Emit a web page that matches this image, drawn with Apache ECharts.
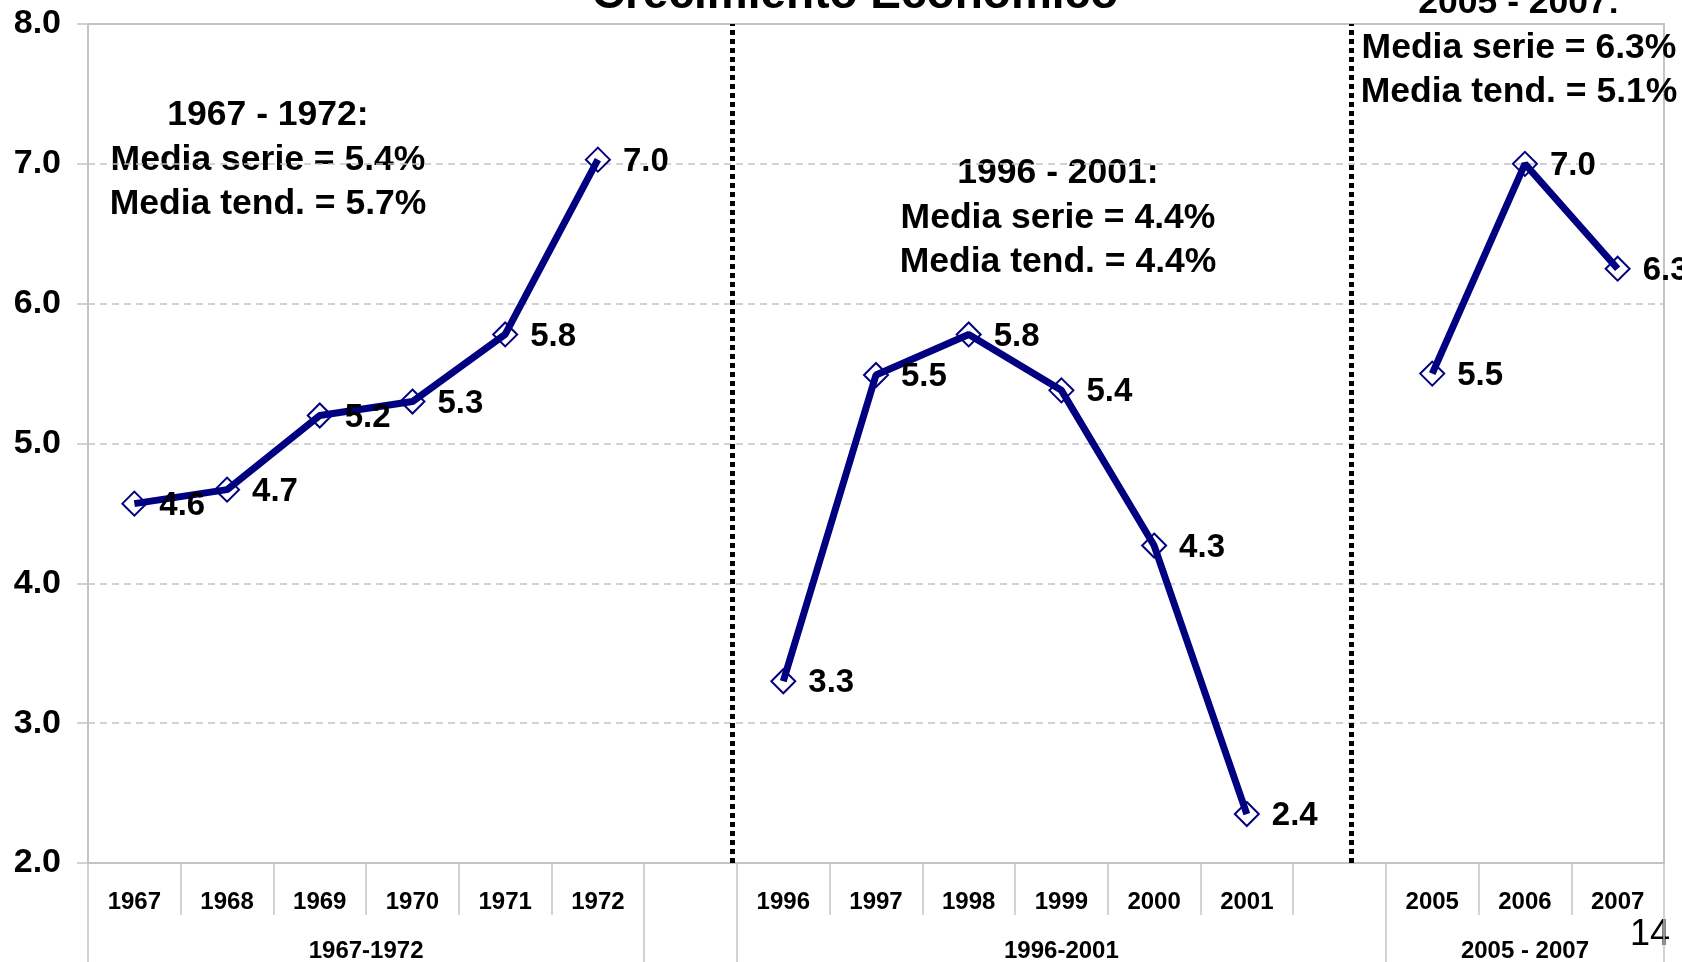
<!DOCTYPE html>
<html>
<head>
<meta charset="utf-8">
<title>Crecimiento Económico</title>
<script src="https://cdn.jsdelivr.net/npm/echarts@6/dist/echarts.min.js"></script>
<style>
	html, body { margin: 0; padding: 0; background: #fff; }
	#chart { width: 1682px; height: 962px; }
</style>
</head>
<body>
<div id="chart"></div>
<script>
	// categorias del eje (los huecos separan los periodos)
	var years = ["1967", "1968", "1969", "1970", "1971", "1972", "",
		"1996", "1997", "1998", "1999", "2000", "2001", "",
		"2005", "2006", "2007"];
	// crecimiento (%)
	var growth = [4.57, 4.67, 5.2, 5.3, 5.78, 7.03, null,
		3.3, 5.49, 5.78, 5.38, 4.27, 2.35, null,
		5.5, 7.0, 6.25];

	// segundo nivel del eje: periodos
	var periodNames = ["1967-1972", "1996-2001", "2005 - 2007"];
	var periodCenters = [3, 10.5, 15.5];
	var periodEdges = [0, 6, 7, 14, 17];
	// lineas punteadas entre periodos (en unidades de categoria)
	var dividers = [6.95, 13.63];

	var yMin = 2, yMax = 8, yStep = 1;

	var notes = [
		["1967 - 1972:", "Media serie = 5.4%", "Media tend. = 5.7%"],
		["1996 - 2001:", "Media serie = 4.4%", "Media tend. = 4.4%"],
		["2005 - 2007:", "Media serie = 6.3%", "Media tend. = 5.1%"]
	];
	var notePos = [[268, 160], [1058, 218], [1519, 48]];

	var FONT = "Liberation Sans, Arial, sans-serif";
	var GRAY = "#c4c4c4";
	var NAVY = "#000080";

	var chart = echarts.init(document.getElementById("chart"));

	var graphics = [];
	graphics.push({
		type: "text", x: 855, y: -5, silent: true,
		style: { text: "Crecimiento Económico", font: "bold 46px " + FONT, fill: "#000",
			textAlign: "center", textVerticalAlign: "middle" }
	});
	for (var i = 0; i < notes.length; i++) {
		graphics.push({
			type: "text", x: notePos[i][0], y: notePos[i][1], silent: true,
			style: { text: notes[i].join("\n"), font: "bold 35.5px " + FONT, fill: "#000",
				lineHeight: 44.5, textAlign: "center", textVerticalAlign: "middle" }
		});
	}
	// numero de diapositiva
	graphics.push({
		type: "text", x: 1670, y: 935, silent: true,
		style: { text: "14", font: "36px " + FONT, fill: "#000",
			textAlign: "right", textVerticalAlign: "middle" }
	});

	var option = {
		animation: false,
		backgroundColor: "#fff",
		grid: {
			left: 88, right: 18, top: 24, bottom: 99,
			show: true, borderColor: GRAY, borderWidth: 2,
			backgroundColor: "transparent",
			outerBoundsMode: "none"
		},
		xAxis: [{
			type: "category",
			data: years,
			axisLine: { lineStyle: { color: GRAY, width: 2 } },
			axisTick: { show: true, interval: 0, length: 52, lineStyle: { color: GRAY, width: 1.5 } },
			axisLabel: { interval: 0, margin: 27, color: "#000",
				fontFamily: FONT, fontWeight: "bold", fontSize: 24 },
			splitLine: { show: false }
		}, {
			type: "value",
			min: 0, max: 17,
			position: "bottom",
			axisLine: { show: false },
			axisTick: { show: true, customValues: periodEdges, length: 99,
				lineStyle: { color: GRAY, width: 1.5 } },
			axisLabel: { customValues: periodCenters, margin: 76, color: "#000",
				fontFamily: FONT, fontWeight: "bold", fontSize: 24,
				formatter: function (v) {
					var k = periodCenters.indexOf(v);
					return k >= 0 ? periodNames[k] : "";
				}
			},
			splitLine: { show: false }
		}],
		yAxis: {
			type: "value",
			min: yMin, max: yMax, interval: yStep,
			axisLine: { show: true, lineStyle: { color: GRAY, width: 2 } },
			axisTick: { show: true, length: 11, lineStyle: { color: GRAY, width: 1.5 } },
			axisLabel: { margin: 27, color: "#000", fontFamily: FONT, fontWeight: "bold", fontSize: 34,
				formatter: function (v) { return v.toFixed(1); } },
			splitLine: { show: true, lineStyle: { color: GRAY, width: 1.5, type: [7, 5] } }
		},
		series: [{
			type: "line",
			data: growth,
			connectNulls: false,
			symbol: "diamond",
			symbolSize: 24,
			lineStyle: { color: NAVY, width: 7 },
			itemStyle: { color: "rgba(0,0,0,0)", borderColor: NAVY, borderWidth: 2 },
			label: {
				show: true, position: "right", distance: 12, offset: [0, 2], color: "#000",
				fontFamily: FONT, fontWeight: "bold", fontSize: 33,
				formatter: function (p) { return p.value.toFixed(1); }
			},
			z: 3
		}, {
			type: "line",
			xAxisIndex: 1,
			data: [],
			silent: true,
			markLine: {
				silent: true,
				symbol: "none",
				label: { show: false },
				lineStyle: { color: "#000", width: 5, type: [5, 4] },
				data: dividers.map(function (d) { return { xAxis: d }; })
			}
		}],
		graphic: graphics
	};

	chart.setOption(option);
</script>
</body>
</html>
